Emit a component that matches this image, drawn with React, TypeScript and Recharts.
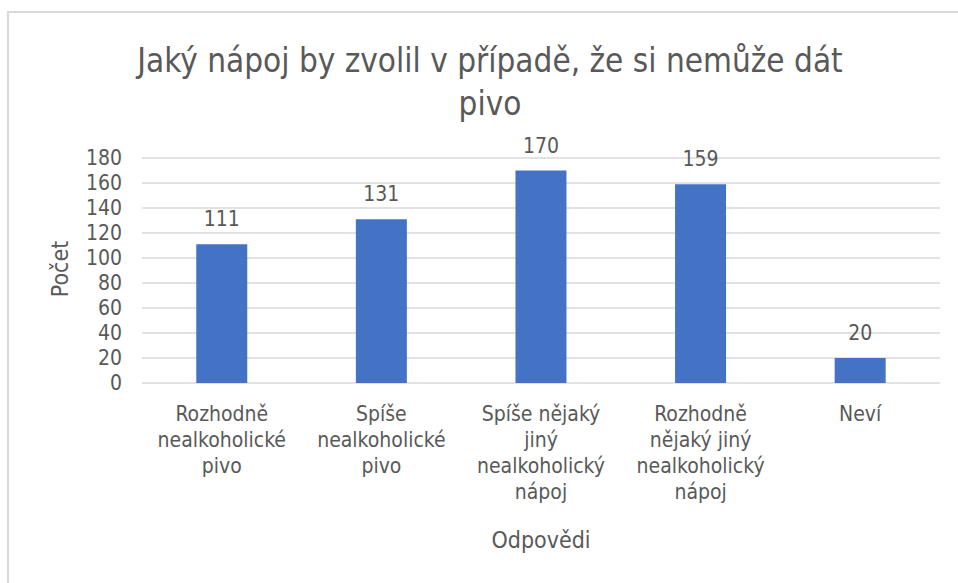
import React from 'react';
import { BarChart, Bar, XAxis, YAxis, CartesianGrid, LabelList } from 'recharts';

const categories = [
  'Rozhodně\nnealkoholické\npivo',
  'Spíše\nnealkoholické\npivo',
  'Spíše nějaký\njiný\nnealkoholický\nnápoj',
  'Rozhodně\nnějaký jiný\nnealkoholický\nnápoj',
  'Neví',
];
const counts = [111, 131, 170, 159, 20];
const yTicks = [0, 20, 40, 60, 80, 100, 120, 140, 160, 180];

const data = categories.map((name, i) => ({ name, count: counts[i] }));

const FONT = "'Liberation Sans Narrow', 'DejaVu Sans Condensed', 'Open Sans', sans-serif";
const TEXT = '#595959';

function CategoryTick(props: any) {
  const { x, y, payload } = props;
  const lines = String(payload.value).split('\n');
  return (
    <g>
      {lines.map((line, i) => (
        <text key={i} x={x} y={y + 38 + i * 26} textAnchor="middle" fill={TEXT} fontSize={21} fontFamily={FONT}>
          {line}
        </text>
      ))}
    </g>
  );
}

export default function App() {
  return (
    <div style={{ position: 'absolute', left: 0, top: 0, width: 958, height: 583, background: '#fff', overflow: 'hidden' }}>
      <div
        style={{
          position: 'absolute',
          left: 7,
          top: 11,
          width: 960,
          height: 600,
          borderLeft: '2px solid #d9d9d9',
          borderTop: '2px solid #d9d9d9',
        }}
      />
      <div
        style={{
          position: 'absolute',
          left: 90,
          top: 39,
          width: 800,
          textAlign: 'center',
          fontFamily: FONT,
          fontSize: 33,
          lineHeight: '43px',
          color: TEXT,
        }}
      >
        Jaký nápoj by zvolil v případě, že si nemůže dát
        <br />
        pivo
      </div>
      <div style={{ position: 'absolute', left: 0, top: 0 }}>
        <BarChart width={958} height={583} data={data} margin={{ top: 158, right: 18, bottom: 30, left: 92 }} barCategoryGap="34%">
          <CartesianGrid vertical={false} stroke="#d9d9d9" strokeWidth={1.5} />
          <XAxis
            dataKey="name"
            height={170}
            axisLine={false}
            tickLine={false}
            tickSize={0}
            tickMargin={0}
            interval={0}
            tick={<CategoryTick />}
            label={{ value: 'Odpovědi', position: 'insideBottom', offset: 5, fill: TEXT, fontSize: 23, fontFamily: FONT }}
          />
          <YAxis
            width={50}
            domain={[0, 180]}
            ticks={yTicks}
            interval={0}
            axisLine={false}
            tickLine={false}
            tickSize={0}
            tickMargin={20}
            tick={{ fill: TEXT, fontSize: 21, fontFamily: FONT }}
          />
          <Bar dataKey="count" fill="#4472C4" isAnimationActive={false}>
            <LabelList dataKey="count" position="top" offset={18} fill={TEXT} fontSize={21} fontFamily={FONT} />
          </Bar>
        </BarChart>
      </div>
      <div
        style={{
          position: 'absolute',
          left: 60,
          top: 269,
          transform: 'translate(-50%, -50%) rotate(-90deg)',
          fontFamily: FONT,
          fontSize: 23,
          color: TEXT,
          whiteSpace: 'nowrap',
        }}
      >
        Počet
      </div>
    </div>
  );
}
